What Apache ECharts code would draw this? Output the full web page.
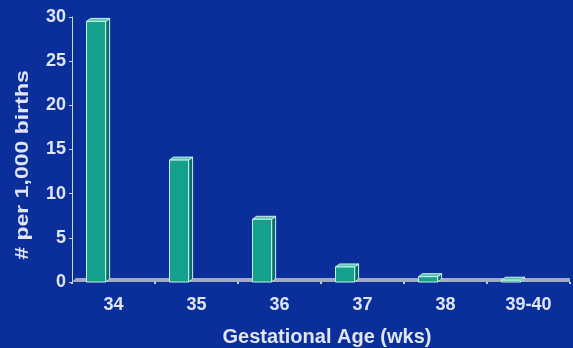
<!DOCTYPE html>
<html>
<head>
<meta charset="utf-8">
<script src="https://cdn.jsdelivr.net/npm/echarts@6/dist/echarts.min.js"></script>
<style>
html,body{margin:0;padding:0;background:#0a2e9a;}
#c{width:573px;height:348px;}
</style>
</head>
<body>
<div id="c"></div>
<script>
const categories = ['34', '35', '36', '37', '38', '39-40'];
const rates = [29.5, 13.8, 7.1, 1.7, 0.6, 0.2];
const yTicks = [0, 5, 10, 15, 20, 25, 30];
const yTitle = '# per 1,000 births';
const xTitle = 'Gestational Age (wks)';

const chart = echarts.init(document.getElementById('c'));
const txt = '#dfe5f2';
const font = '"Liberation Sans", Arial, sans-serif';

function renderBar(params, api) {
  const idx = api.value(0);
  const val = api.value(1);
  const top = api.coord([idx, val]);
  const base = api.coord([idx, 0]);
  const bw = api.size([1, 0])[0];
  const x0 = top[0] - bw * 0.325;
  const x1 = top[0] - bw * 0.095;
  const yT = top[1];
  const yB = base[1];
  const dx = 4, dy = 3;
  const stroke = '#c9f2ea';
  return {
    type: 'group',
    children: [
      {type: 'polygon', shape: {points: [[x1, yB], [x1 + dx, yB - dy], [x1 + dx, yT - dy], [x1, yT]]},
       style: {fill: '#0b6d6a', stroke: stroke, lineWidth: 1}},
      {type: 'polygon', shape: {points: [[x0, yT], [x0 + dx, yT - dy], [x1 + dx, yT - dy], [x1, yT]]},
       style: {fill: '#56c4ae', stroke: stroke, lineWidth: 1}},
      {type: 'rect', shape: {x: x0, y: yT, width: x1 - x0, height: yB - yT},
       style: {fill: '#14a08c', stroke: stroke, lineWidth: 1}}
    ]
  };
}

function renderFloor(params, api) {
  const cs = params.coordSys;
  const yB = cs.y + cs.height;
  return {
    type: 'polygon',
    shape: {points: [[cs.x, yB], [cs.x + 4, yB - 4], [cs.x + cs.width, yB - 4], [cs.x + cs.width, yB]]},
    style: {fill: '#a3abc4'}
  };
}

chart.setOption({
  backgroundColor: '#0a2e9a',
  animation: false,
  grid: {left: 72, right: 3, top: 17, bottom: 66, containLabel: false, outerBoundsMode: 'none'},
  graphic: [{
    type: 'text', x: 23, y: 165, rotation: Math.PI / 2, scaleX: 1.28,
    style: {text: yTitle, fill: txt, font: 'bold 18px ' + font, textAlign: 'center', textVerticalAlign: 'middle'}
  }, {
    type: 'text', x: 327, y: 337,
    style: {text: xTitle, fill: txt, font: 'bold 20px ' + font, textAlign: 'center', textVerticalAlign: 'middle'}
  }],
  xAxis: {
    type: 'category',
    data: categories,
    boundaryGap: true,
    axisLine: {show: false},
    axisTick: {show: true, length: 2, lineStyle: {color: '#c8d4ee', width: 2}},
    axisLabel: {color: txt, fontFamily: font, fontWeight: 'bold', fontSize: 18, margin: 14}
  },
  yAxis: {
    type: 'value',
    min: 0, max: 30, interval: 5,
    axisLine: {show: true, lineStyle: {color: '#c8d8f4', width: 1}},
    axisTick: {show: true, length: 3, lineStyle: {color: '#c8d8f4'}},
    splitLine: {show: false},
    axisLabel: {color: txt, fontFamily: font, fontWeight: 'bold', fontSize: 18, margin: 6,
      formatter: v => yTicks.includes(v) ? String(v) : ''}
  },
  series: [
    {type: 'custom', renderItem: renderFloor, data: [[0, 0]], z: 1, silent: true},
    {type: 'custom', renderItem: renderBar, data: rates.map((v, i) => [i, v]), z: 2,
     encode: {x: 0, y: 1}}
  ]
});
</script>
</body>
</html>
